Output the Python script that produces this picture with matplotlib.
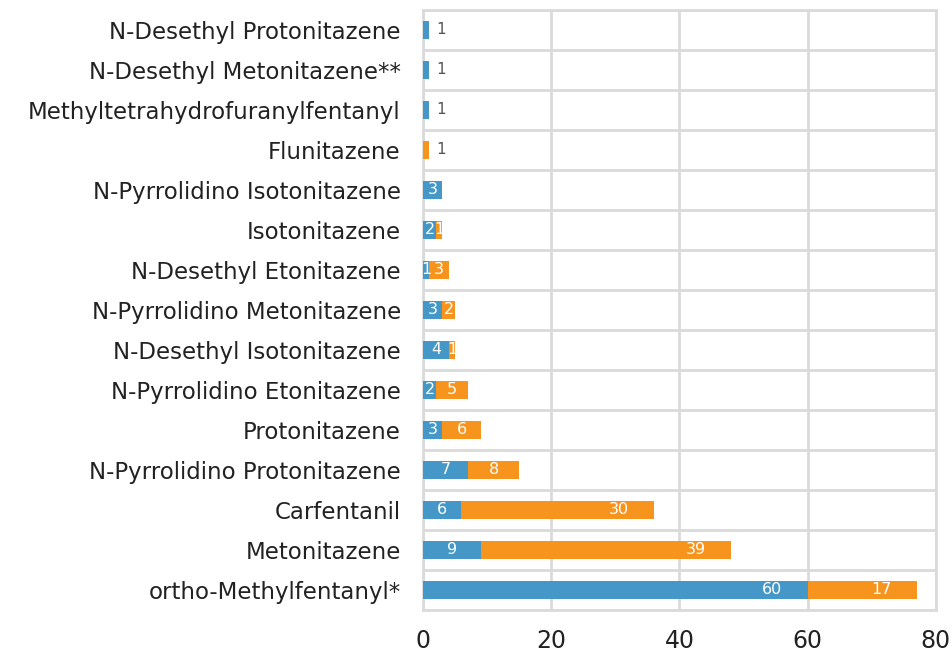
import matplotlib
matplotlib.use("Agg")
import matplotlib.pyplot as plt
import numpy as np

# Data (bottom to top as drawn)
substances = [
    "ortho-Methylfentanyl*",
    "Metonitazene",
    "Carfentanil",
    "N-Pyrrolidino Protonitazene",
    "Protonitazene",
    "N-Pyrrolidino Etonitazene",
    "N-Desethyl Isotonitazene",
    "N-Pyrrolidino Metonitazene",
    "N-Desethyl Etonitazene",
    "Isotonitazene",
    "N-Pyrrolidino Isotonitazene",
    "Flunitazene",
    "Methyltetrahydrofuranylfentanyl",
    "N-Desethyl Metonitazene**",
    "N-Desethyl Protonitazene",
]
blue_vals = [60, 9, 6, 7, 3, 2, 4, 3, 1, 2, 3, 0, 1, 1, 1]
orange_vals = [17, 39, 30, 8, 6, 5, 1, 2, 3, 1, 0, 1, 0, 0, 0]
x_ticks = [0, 20, 40, 60, 80]

BLUE = "#4497c6"
ORANGE = "#f7941d"
GRID = "#dadada"
TEXT = "#222222"

plt.rcParams['font.family'] = ['DejaVu Sans']

fig = plt.figure(figsize=(9.53, 6.53), dpi=100)
ax = fig.add_axes([0.4439, 0.0659, 0.5381, 0.9188])

y = np.arange(len(substances))
blue = np.array(blue_vals)
orange = np.array(orange_vals)
h = 0.45

ax.barh(y, blue, height=h, color=BLUE, zorder=3)
ax.barh(y, orange, left=blue, height=h, color=ORANGE, zorder=3)


def label_pos(start, width):
    # wide segments: label near the end, narrow ones: centred
    end = start + width
    if width > 10:
        return end - 5.5
    return start + width / 2


for i in range(len(substances)):
    b, o = blue[i], orange[i]
    single = (b == 0) != (o == 0)
    if single and b + o == 1:
        ax.text(b + o + 1, i, "1", ha="left", va="center", color="#555555",
                fontsize=11, zorder=4)
        continue
    if b > 0:
        ax.text(label_pos(0, b), i, str(b), ha="center", va="center",
                color="white", fontsize=11.5, zorder=4)
    if o > 0:
        ax.text(label_pos(b, o), i, str(o), ha="center", va="center",
                color="white", fontsize=11.5, zorder=4)

ax.set_xlim(0, 80)
ax.set_ylim(-0.5, len(substances) - 0.5)
ax.set_xticks(x_ticks)
ax.set_yticks(y)
ax.set_yticklabels(substances)
ax.set_yticks(np.arange(-0.5, len(substances), 1), minor=True)

ax.grid(axis="x", which="major", color=GRID, linewidth=2, zorder=0)
ax.grid(axis="y", which="minor", color=GRID, linewidth=2, zorder=0)
ax.grid(axis="y", which="major", visible=False)

for s in ax.spines.values():
    s.set_color(GRID)
    s.set_linewidth(2)

ax.tick_params(axis="both", which="both", length=0)
ax.tick_params(axis="y", labelsize=16.5, labelcolor=TEXT, pad=16)
ax.tick_params(axis="x", labelsize=17, labelcolor=TEXT, pad=14)

fig.savefig("out.png", dpi=100)
